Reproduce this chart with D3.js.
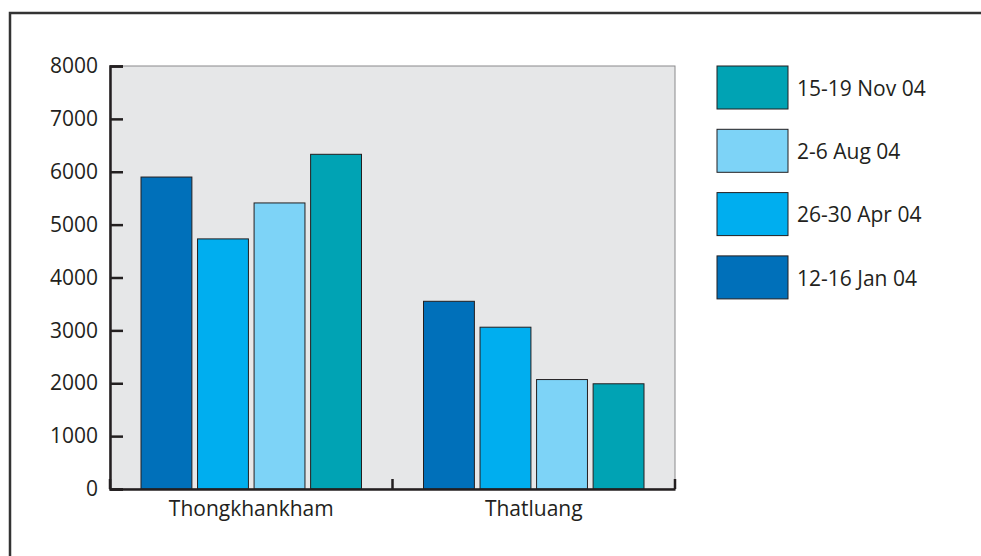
<!DOCTYPE html>
<html>
<head>
<meta charset="utf-8">
<script src="https://cdn.jsdelivr.net/npm/d3@7"></script>
<style>
  body { margin: 0; background: #fff; }
  svg { display: block; font-family: "Open Sans", sans-serif; }
</style>
</head>
<body>
<svg id="chart" width="981" height="556"></svg>
<script>
// chart data
const sites = ['Thongkhankham', 'Thatluang'];
const periods = ['12-16 Jan 04', '26-30 Apr 04', '2-6 Aug 04', '15-19 Nov 04'];
const thongkhankham = [5900, 4730, 5410, 6330];
const thatluang = [3550, 3060, 2070, 1990];
const yTicks = [0, 1000, 2000, 3000, 4000, 5000, 6000, 7000, 8000];
const colors = ['#0070ba', '#00aeef', '#7dd3f7', '#00a3b4'];

const values = { Thongkhankham: thongkhankham, Thatluang: thatluang };

const svg = d3.select('#chart');
const ink = '#231f20';
const fontSize = 21;

// outer frame (top and left only)
svg.append('path')
  .attr('d', 'M10,556V13H981')
  .attr('fill', 'none')
  .attr('stroke', '#333')
  .attr('stroke-width', 2.5);

const plotL = 110, plotR = 675, plotT = 66, plotB = 489;

const x0 = d3.scaleBand().domain(sites).range([plotL, plotR]);
const x1 = d3.scaleBand().domain(periods)
  .range([31, x0.bandwidth() - 31]).paddingInner(0.1);
const y = d3.scaleLinear().domain([0, 8000]).range([plotB, plotT]);

// plot background
svg.append('rect')
  .attr('x', plotL).attr('y', plotT)
  .attr('width', plotR - plotL).attr('height', plotB - plotT)
  .attr('fill', '#e6e7e8')
  .attr('stroke', '#8a8a8c')
  .attr('stroke-width', 1);

// bars
sites.forEach(site => {
  const g = svg.append('g').attr('transform', `translate(${x0(site)},0)`);
  g.selectAll('rect')
    .data(values[site])
    .join('rect')
    .attr('x', (d, i) => x1(periods[i]))
    .attr('y', d => y(d))
    .attr('width', x1.bandwidth())
    .attr('height', d => plotB - y(d))
    .attr('fill', (d, i) => colors[i])
    .attr('stroke', ink)
    .attr('stroke-width', 1);
});

// y axis
const yAxis = svg.append('g')
  .attr('transform', `translate(${plotL},0)`)
  .call(d3.axisLeft(y).tickValues(yTicks).tickSize(-13).tickPadding(12)
    .tickFormat(d3.format('d')));
yAxis.attr('font-family', null).attr('font-size', fontSize);
yAxis.select('.domain').attr('stroke', ink).attr('stroke-width', 2.5);
yAxis.selectAll('.tick line').attr('stroke', ink).attr('stroke-width', 2.5);
yAxis.selectAll('.tick text')
  .attr('fill', ink)
  .attr('x', -12);

// x axis
const xAxis = svg.append('g')
  .attr('transform', `translate(0,${plotB})`)
  .call(d3.axisBottom(x0).tickSize(0).tickPadding(12));
xAxis.attr('font-family', null).attr('font-size', fontSize);
xAxis.select('.domain').attr('stroke', ink).attr('stroke-width', 2.5);
xAxis.selectAll('.tick text').attr('fill', ink);

// category boundary ticks pointing up
const bounds = [plotL, plotL + x0.bandwidth(), plotR];
svg.append('g').selectAll('line')
  .data(bounds)
  .join('line')
  .attr('x1', d => d).attr('x2', d => d)
  .attr('y1', plotB).attr('y2', plotB - 10)
  .attr('stroke', ink).attr('stroke-width', 2.5);

// legend (top entry = last period)
const legend = svg.append('g').attr('transform', 'translate(717,66)');
const legendOrder = periods.slice().reverse();
legendOrder.forEach((p, i) => {
  const item = legend.append('g').attr('transform', `translate(0,${i * 63.3})`);
  item.append('rect')
    .attr('width', 71).attr('height', 43)
    .attr('fill', colors[periods.indexOf(p)])
    .attr('stroke', ink).attr('stroke-width', 1);
  item.append('text')
    .attr('x', 80).attr('y', 22.5)
    .attr('dy', '0.35em')
    .attr('font-size', fontSize).attr('fill', ink)
    .text(p);
});
</script>
</body>
</html>
